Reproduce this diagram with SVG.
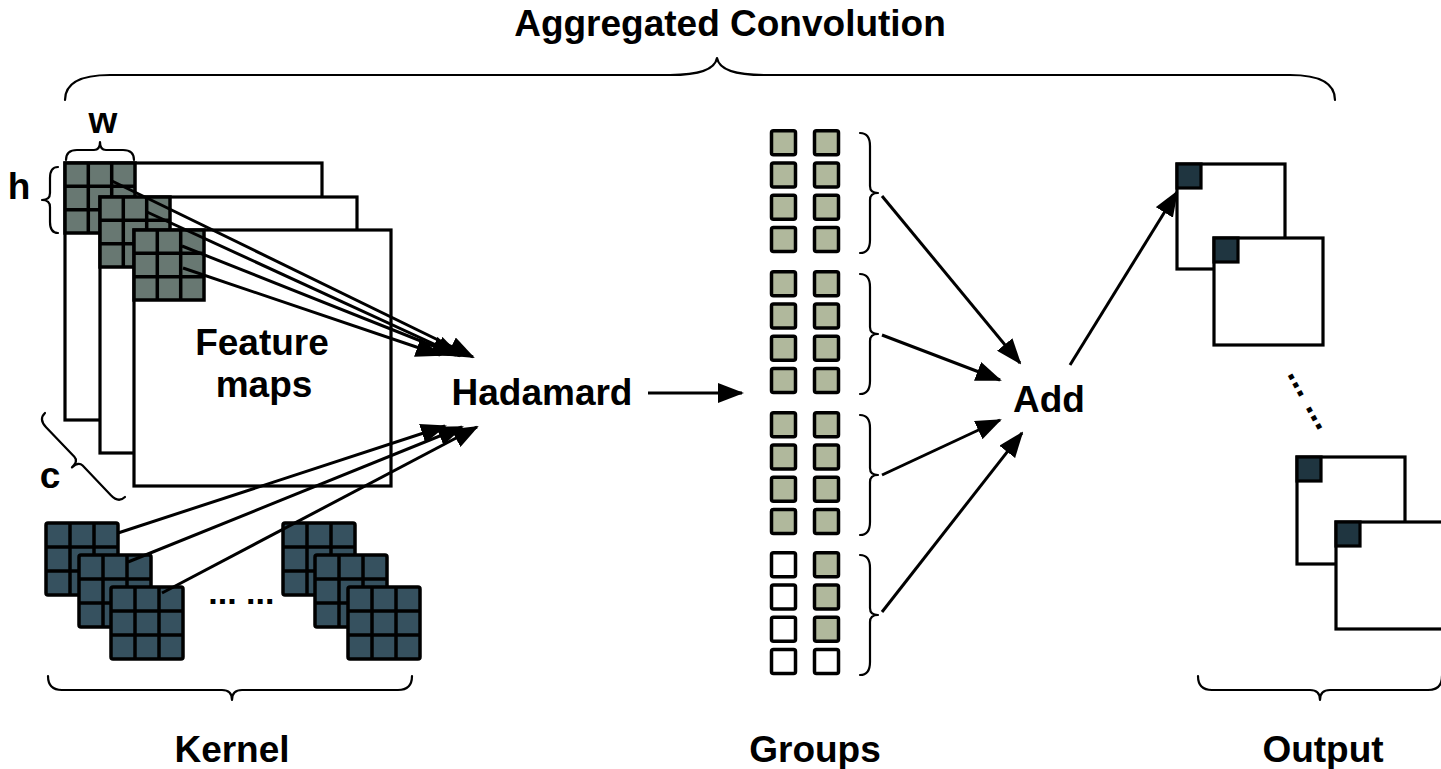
<svg xmlns="http://www.w3.org/2000/svg" xmlns:xlink="http://www.w3.org/1999/xlink" width="1441" height="769" viewBox="0 0 1441 769">
  <style>
    .lbl { font-family: "Liberation Sans", Arial, sans-serif; font-weight: bold; font-size: 37px; fill: #000; text-anchor: middle; }
    .dots { font-family: "Liberation Sans", Arial, sans-serif; font-weight: bold; font-size: 34px; fill: #000; }
    .brace { fill: none; stroke: #000; stroke-width: 2.2; stroke-linecap: round; stroke-linejoin: round; }
    .sheet { fill: #fff; stroke: #000; stroke-width: 3.2; }
    .cell { stroke: #000; stroke-width: 3.5; }
    .on { fill: #b0b89c; }
    .off { fill: #fff; }
    .dark { fill: #1f3540; stroke: #000; stroke-width: 3.2; }
    .conn { stroke: #000; stroke-width: 3; fill: none; marker-end: url(#ah); }
  </style>
  <defs>
    <marker id="ah" viewBox="0 0 26 20" markerWidth="26" markerHeight="20" markerUnits="userSpaceOnUse" refX="24" refY="10" orient="auto">
      <path d="M0,0 L26,10 L0,20 z" fill="#000"/>
    </marker>
    <!-- 3x3 window over a feature map -->
    <g id="fgrid">
      <rect x="0" y="0" width="70" height="70" fill="#687872" stroke="#000" stroke-width="3.5"/>
      <path d="M23.3,0V70M46.7,0V70M0,23.3H70M0,46.7H70" stroke="#000" stroke-width="3.5"/>
    </g>
    <!-- 3x3 kernel -->
    <g id="kgrid">
      <rect x="0" y="0" width="72" height="72" rx="2" fill="#36515f" stroke="#000" stroke-width="3.5"/>
      <path d="M24,0V72M48,0V72M0,24H72M0,48H72" stroke="#000" stroke-width="3.5"/>
    </g>
  </defs>

  <rect width="1441" height="769" fill="#fff"/>

  <!-- title and overall brace -->
  <g id="title">
    <text class="lbl" x="730" y="36">Aggregated Convolution</text>
    <path class="brace" stroke-width="3" d="M65,100 Q65,75 110,75 L670,75 Q714,75 717,58 Q720,75 764,75 L1290,75 Q1335,75 1335,100"/>
  </g>

  <!-- feature maps -->
  <g id="feature-maps">
    <rect class="sheet" x="65" y="163" width="257" height="257"/>
    <use xlink:href="#fgrid" x="65" y="163"/>
    <rect class="sheet" x="100" y="197" width="257" height="256"/>
    <use xlink:href="#fgrid" x="100" y="197"/>
    <rect class="sheet" x="134" y="230" width="257" height="256"/>
    <use xlink:href="#fgrid" x="134" y="230"/>
    <text class="lbl" x="262" y="355">Feature</text>
    <text class="lbl" x="264" y="397">maps</text>
  </g>

  <!-- window size annotations -->
  <g id="dims">
    <text class="lbl" x="103" y="133">w</text>
    <path class="brace" d="M66,160 Q66,150 77,150 L94,150 Q100,150 100,142 Q100,150 106,150 L123,150 Q134,150 134,160"/>
    <text class="lbl" x="19" y="199">h</text>
    <path class="brace" d="M58,167 Q50,167 50,178 L50,193 Q50,200 42,200 Q50,200 50,207 L50,222 Q50,233 58,233"/>
    <text class="lbl" x="50" y="488">c</text>
    <path class="brace" transform="translate(45,413) rotate(46.4)" d="M0,0 Q0,9 11,9 L52,9 Q58,9 58,18 Q58,9 64,9 L105,9 Q116,9 116,0"/>
  </g>

  <!-- kernels -->
  <g id="kernels">
    <use xlink:href="#kgrid" x="46" y="523"/>
    <use xlink:href="#kgrid" x="79" y="555"/>
    <use xlink:href="#kgrid" x="111" y="587"/>
    <use xlink:href="#kgrid" x="283" y="523"/>
    <use xlink:href="#kgrid" x="315" y="555"/>
    <use xlink:href="#kgrid" x="348" y="587"/>
    <text class="dots" x="208.3" y="604.4">... ...</text>
    <path class="brace" d="M48,676 Q48,690 62,690 L222,690 Q232,690 232,700 Q232,690 242,690 L398,690 Q412,690 412,676"/>
    <text class="lbl" x="232" y="762">Kernel</text>
  </g>

  <g id="hadamard">
    <text class="lbl" x="542" y="405">Hadamard</text>
  </g>

  <!-- channel groups -->
  <g id="groups">
    <g id="group-1">
      <rect class="cell on" x="771.5" y="130.8" width="24" height="24" rx="2"/>
      <rect class="cell on" x="814.5" y="130.8" width="24" height="24" rx="2"/>
      <rect class="cell on" x="771.5" y="163.0" width="24" height="24" rx="2"/>
      <rect class="cell on" x="814.5" y="163.0" width="24" height="24" rx="2"/>
      <rect class="cell on" x="771.5" y="195.2" width="24" height="24" rx="2"/>
      <rect class="cell on" x="814.5" y="195.2" width="24" height="24" rx="2"/>
      <rect class="cell on" x="771.5" y="227.4" width="24" height="24" rx="2"/>
      <rect class="cell on" x="814.5" y="227.4" width="24" height="24" rx="2"/>
      <path class="brace" d="M860,133 Q870,133 870,146 L870,186 Q870,193 878,193 Q870,193 870,200 L870,240 Q870,253 860,253"/>
    </g>
    <g id="group-2" transform="translate(0,141)">
      <rect class="cell on" x="771.5" y="130.8" width="24" height="24" rx="2"/>
      <rect class="cell on" x="814.5" y="130.8" width="24" height="24" rx="2"/>
      <rect class="cell on" x="771.5" y="163.0" width="24" height="24" rx="2"/>
      <rect class="cell on" x="814.5" y="163.0" width="24" height="24" rx="2"/>
      <rect class="cell on" x="771.5" y="195.2" width="24" height="24" rx="2"/>
      <rect class="cell on" x="814.5" y="195.2" width="24" height="24" rx="2"/>
      <rect class="cell on" x="771.5" y="227.4" width="24" height="24" rx="2"/>
      <rect class="cell on" x="814.5" y="227.4" width="24" height="24" rx="2"/>
      <path class="brace" d="M860,133 Q870,133 870,146 L870,186 Q870,193 878,193 Q870,193 870,200 L870,240 Q870,253 860,253"/>
    </g>
    <g id="group-3" transform="translate(0,282)">
      <rect class="cell on" x="771.5" y="130.8" width="24" height="24" rx="2"/>
      <rect class="cell on" x="814.5" y="130.8" width="24" height="24" rx="2"/>
      <rect class="cell on" x="771.5" y="163.0" width="24" height="24" rx="2"/>
      <rect class="cell on" x="814.5" y="163.0" width="24" height="24" rx="2"/>
      <rect class="cell on" x="771.5" y="195.2" width="24" height="24" rx="2"/>
      <rect class="cell on" x="814.5" y="195.2" width="24" height="24" rx="2"/>
      <rect class="cell on" x="771.5" y="227.4" width="24" height="24" rx="2"/>
      <rect class="cell on" x="814.5" y="227.4" width="24" height="24" rx="2"/>
      <path class="brace" d="M860,133 Q870,133 870,146 L870,186 Q870,193 878,193 Q870,193 870,200 L870,240 Q870,253 860,253"/>
    </g>
    <g id="group-4" transform="translate(0,422)">
      <rect class="cell off" x="771.5" y="130.8" width="24" height="24" rx="2"/>
      <rect class="cell on" x="814.5" y="130.8" width="24" height="24" rx="2"/>
      <rect class="cell off" x="771.5" y="163.0" width="24" height="24" rx="2"/>
      <rect class="cell on" x="814.5" y="163.0" width="24" height="24" rx="2"/>
      <rect class="cell off" x="771.5" y="195.2" width="24" height="24" rx="2"/>
      <rect class="cell on" x="814.5" y="195.2" width="24" height="24" rx="2"/>
      <rect class="cell off" x="771.5" y="227.4" width="24" height="24" rx="2"/>
      <rect class="cell off" x="814.5" y="227.4" width="24" height="24" rx="2"/>
      <path class="brace" d="M860,133 Q870,133 870,146 L870,186 Q870,193 878,193 Q870,193 870,200 L870,240 Q870,253 860,253"/>
    </g>
    <text class="lbl" x="815" y="762">Groups</text>
  </g>

  <g id="add">
    <text class="lbl" x="1049" y="412">Add</text>
  </g>

  <!-- output maps -->
  <g id="output">
    <rect class="sheet" x="1177" y="164" width="108" height="105"/>
    <rect class="dark" x="1177" y="164" width="24" height="24"/>
    <rect class="sheet" x="1214" y="238" width="109" height="107"/>
    <rect class="dark" x="1214" y="238" width="24" height="24"/>
    <text class="dots" transform="translate(1291,377) rotate(61)" x="-4.7" y="2.3">... ...</text>
    <rect class="sheet" x="1297" y="457" width="108" height="107"/>
    <rect class="dark" x="1297" y="457" width="24" height="24"/>
    <rect class="sheet" x="1336" y="522" width="112" height="107"/>
    <rect class="dark" x="1336" y="522" width="24" height="24"/>
    <path class="brace" d="M1198,676 Q1198,690 1212,690 L1310,690 Q1320,690 1320,700 Q1320,690 1330,690 L1428,690 Q1442,690 1442,676"/>
    <text class="lbl" x="1323" y="762">Output</text>
  </g>

  <!-- connectors -->
  <g id="connectors">
    <line class="conn" x1="112" y1="181" x2="473" y2="357"/>
    <line class="conn" x1="147" y1="212" x2="460" y2="356"/>
    <line class="conn" x1="182" y1="246" x2="456" y2="355"/>
    <line class="conn" x1="183" y1="268" x2="440" y2="355"/>
    <line class="conn" x1="118" y1="533" x2="445" y2="426"/>
    <line class="conn" x1="128" y1="562" x2="462" y2="427"/>
    <line class="conn" x1="162" y1="593" x2="477" y2="427"/>
    <line class="conn" x1="648" y1="393" x2="742" y2="393"/>
    <line class="conn" x1="882" y1="196" x2="1020" y2="363"/>
    <line class="conn" x1="882" y1="335" x2="1000" y2="380"/>
    <line class="conn" x1="882" y1="475" x2="1000" y2="420"/>
    <line class="conn" x1="882" y1="612" x2="1022" y2="433"/>
    <line class="conn" x1="1070" y1="365" x2="1177" y2="192"/>
  </g>
</svg>
